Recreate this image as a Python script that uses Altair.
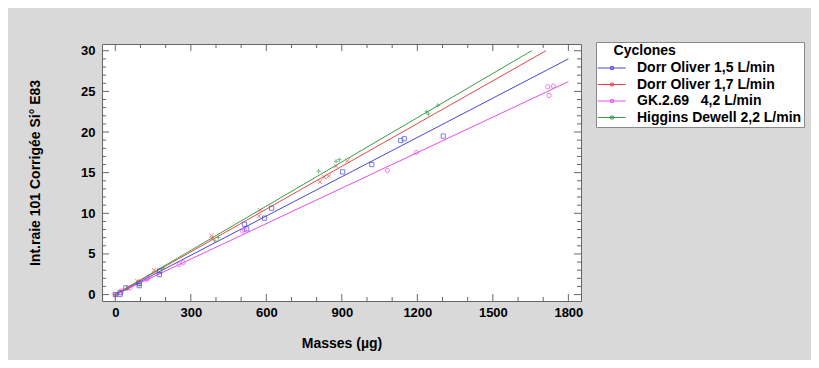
import altair as alt
import pandas as pd

series = ["Dorr Oliver 1,5 L/min", "Dorr Oliver 1,7 L/min",
          "GK.2.69\u00a0\u00a0\u00a04,2 L/min", "Higgins Dewell 2,2 L/min"]
colors = ["#4646dc", "#e44848", "#ea4cea", "#3c9c46"]
shapes = ["square", "M-1,-1L1,1M-1,1L1,-1", "circle", "M-1,0H1M0,-1V1"]

blue_x = [0, 19, 19, 42, 95, 95, 175, 176, 513, 522, 593, 621, 903, 1019, 1134, 1148, 1303]
blue_y = [0.0, 0.04, 0.25, 0.82, 1.1, 1.38, 2.46, 2.9, 8.66, 8.08, 9.4, 10.63, 15.1, 16.0, 18.96, 19.17, 19.5]
red_x = [0, 25, 50, 87, 154, 383, 385, 571, 575, 813, 830, 848, 877, 922]
red_y = [0.0, 0.4, 0.85, 1.68, 3.0, 7.26, 6.9, 9.64, 10.38, 13.87, 14.45, 14.57, 15.8, 16.45]
pink_x = [0, 25, 58, 125, 128, 254, 270, 506, 513, 1081, 1196, 1718, 1723, 1740]
pink_y = [0.0, 0.45, 0.82, 1.88, 2.0, 3.69, 3.94, 7.8, 8.0, 15.27, 17.5, 25.57, 24.5, 25.65]
green_x = [0, 48, 95, 193, 396, 409, 808, 877, 890, 1237, 1244, 1282]
green_y = [0.0, 0.8, 1.15, 3.24, 6.6, 7.0, 15.18, 16.4, 16.6, 22.5, 22.2, 23.3]

fit_x_start = [0, 0, 0, 0]
fit_y_start = [0.0, 0.0, 0.0, 0.0]
fit_x_end = [1800, 1711, 1800, 1654]
fit_y_end = [29.0, 30.0, 26.2, 30.0]

x_major = [0, 300, 600, 900, 1200, 1500, 1800]
x_minor = [100, 200, 400, 500, 700, 800, 1000, 1100, 1300, 1400, 1600, 1700]
y_major = [0, 5, 10, 15, 20, 25, 30]
y_minor = [1, 2, 3, 4, 6, 7, 8, 9, 11, 12, 13, 14, 16, 17, 18, 19, 21, 22, 23, 24, 26, 27, 28, 29]

x_domain = [-52.8, 1850.2]
y_domain = [-0.79, 30.83]

W, H = 479, 257
FRAME = "#666666"
FONT = "Liberation Sans"

fit = []
for name, a0, b0, a1, b1 in zip(series, fit_x_start, fit_y_start, fit_x_end, fit_y_end):
    fit.append({"series": name, "x": a0, "y": b0})
    fit.append({"series": name, "x": a1, "y": b1})
fit = pd.DataFrame(fit)

xscale = alt.Scale(domain=x_domain, nice=False, zero=False)
yscale = alt.Scale(domain=y_domain, nice=False, zero=False)
cscale = alt.Scale(domain=series, range=colors)

legend_symbol = "M-1.3,0H3.7M1.0,-0.25H1.5V0.25H1.0Z"

legend = alt.Legend(
    title="\u200b\u00a0\u00a0\u00a0\u00a0Cyclones", orient="none", legendX=494, legendY=-2,
    symbolType=legend_symbol, symbolSize=125, symbolStrokeWidth=1,
    labelOffset=25, padding=2, rowPadding=2.5, titlePadding=3, labelLimit=400,
    fillColor="white", strokeColor="#888888",
    labelFont=FONT, labelFontSize=14, labelFontWeight="bold", labelColor="black",
    titleFont=FONT, titleFontSize=14, titleFontWeight="bold", titleColor="black",
)

xaxis = alt.Axis(values=x_major, title="Masses (µg)", ticks=False, tickSize=0, domain=False,
                 grid=False, labelPadding=5, titlePadding=17, labelFont=FONT, titleFont=FONT,
                 labelFontSize=13, labelFontWeight="bold", titleFontSize=14, titleFontWeight="bold",
                 labelColor="black", titleColor="black", format="d", labelFlush=False)
yaxis = alt.Axis(values=y_major, title="Int.raie 101 Corrigée Si° E83", ticks=False, tickSize=0,
                 domain=False, grid=False, labelPadding=7, titlePadding=38, labelFont=FONT,
                 titleFont=FONT, labelFontSize=13, labelFontWeight="bold", titleFontSize=14,
                 titleFontWeight="bold", labelColor="black", titleColor="black", format="d")

lines = alt.Chart(fit).mark_line(strokeWidth=1).encode(
    x=alt.X("x:Q", scale=xscale, axis=xaxis),
    y=alt.Y("y:Q", scale=yscale, axis=yaxis),
    color=alt.Color("series:N", scale=cscale, legend=legend),
    detail="series:N",
)

point_layers = []
for name, col, shp, xs, ys in zip(series, colors, shapes,
                                  [blue_x, red_x, pink_x, green_x],
                                  [blue_y, red_y, pink_y, green_y]):
    df = pd.DataFrame({"x": xs, "y": ys})
    point_layers.append(
        alt.Chart(df).mark_point(filled=False, strokeWidth=1, size=18, shape=shp, color=col).encode(
            x=alt.X("x:Q", scale=xscale, axis=xaxis),
            y=alt.Y("y:Q", scale=yscale, axis=yaxis),
        )
    )

layers = []
for vals, length in [(x_major, 7), (x_minor, 4)]:
    df = pd.DataFrame({"x": vals})
    for y0, y1 in [(H, H - length), (0, length)]:
        layers.append(alt.Chart(df).mark_rule(color=FRAME, strokeWidth=1).encode(
            x=alt.X("x:Q", scale=xscale, axis=xaxis), y=alt.value(y0), y2=alt.value(y1)))
for vals, length in [(y_major, 7), (y_minor, 4)]:
    df = pd.DataFrame({"y": vals})
    for x0, x1 in [(0, length), (W, W - length)]:
        layers.append(alt.Chart(df).mark_rule(color=FRAME, strokeWidth=1).encode(
            y=alt.Y("y:Q", scale=yscale, axis=yaxis), x=alt.value(x0), x2=alt.value(x1)))

chart = alt.layer(lines, *point_layers, *layers).properties(
    width=W, height=H,
    autosize=alt.AutoSizeParams(type="none"),
    padding={"left": 94, "top": 36, "right": 230, "bottom": 59},
    background="#d9d9d9",
).configure_view(stroke=FRAME, strokeWidth=1, fill="white")

chart.save("out.html", embed_options={"renderer": "svg", "actions": False})
